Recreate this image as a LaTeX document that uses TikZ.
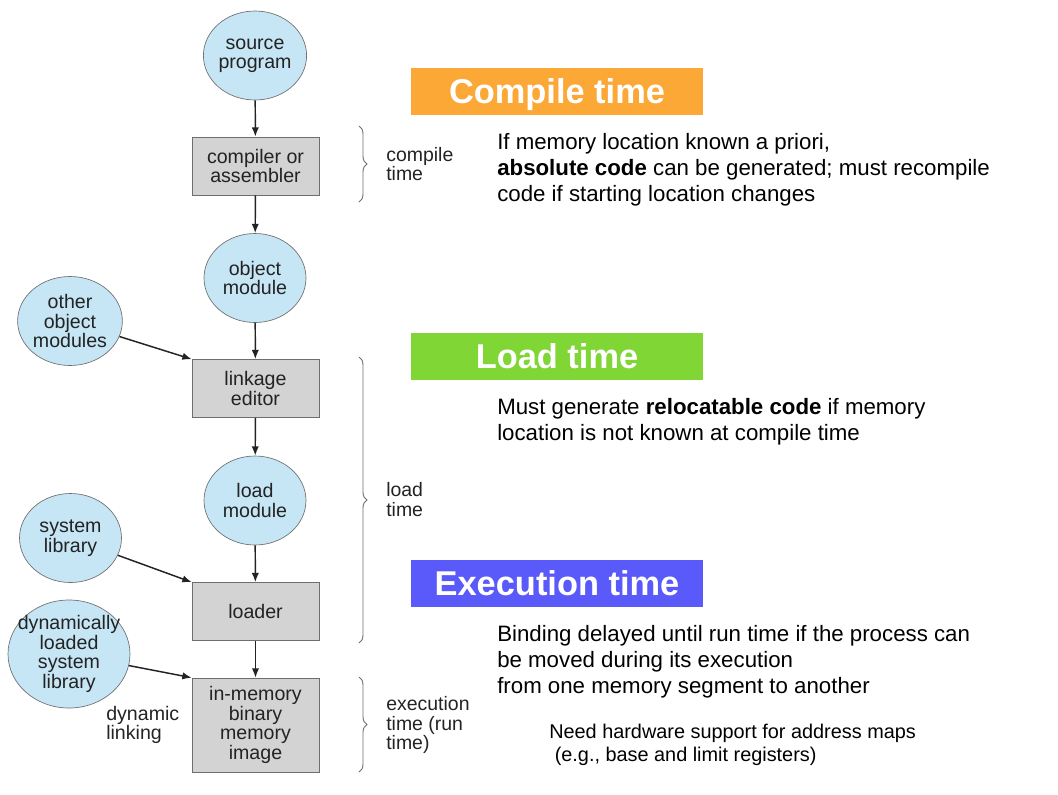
\documentclass[tikz,border=0pt]{standalone}
\usepackage{fontspec}
\setmainfont{Liberation Sans}
\usetikzlibrary{shapes.geometric,arrows.meta,decorations.pathreplacing}

\definecolor{bubble}{RGB}{198,230,245}
\definecolor{boxgray}{RGB}{211,211,211}
\definecolor{edgegray}{RGB}{110,110,110}
\definecolor{inkgray}{RGB}{35,35,35}
\definecolor{orangeband}{RGB}{251,168,55}
\definecolor{greenband}{RGB}{128,214,52}
\definecolor{blueband}{RGB}{90,90,250}

\tikzset{
  diag/.style={font=\fontsize{14.7}{14.6}\selectfont, text=inkgray, align=center},
  bubblenode/.style={diag, ellipse, draw=edgegray, line width=0.5pt, fill=bubble,
    inner sep=0pt, minimum width=76.5pt, minimum height=66.75pt},
  stage/.style={diag, rectangle, draw=edgegray, line width=0.5pt, fill=boxgray,
    inner sep=0pt, minimum width=95.25pt, minimum height=43.5pt},
  flow/.style={-{Latex[length=7pt,width=5.5pt]}, line width=1.1pt, draw=inkgray},
  bracket/.style={decorate, decoration={brace, amplitude=6pt}, draw=edgegray, line width=0.7pt},
  banner/.style={rectangle, inner sep=0pt, minimum width=219pt, minimum height=35.25pt,
    text depth=0pt, text=white, font=\fontsize{25.8}{28}\selectfont\bfseries},
  body/.style={anchor=west, inner sep=0pt, align=left, text=black,
    font=\fontsize{16.7}{19.5}\selectfont},
  smallbody/.style={anchor=west, inner sep=0pt, align=left, text=black,
    font=\fontsize{14.9}{17.25}\selectfont},
  timelabel/.style={anchor=west, inner sep=0pt, align=left, text=inkgray,
    font=\fontsize{14.6}{14.5}\selectfont}
}

\begin{document}
\begin{tikzpicture}[x=0.75pt,y=-0.75pt]
  \useasboundingbox (0,0) rectangle (1058,794);

  % main pipeline
  \node[bubblenode] (src) at (255,55.5) {source\\program};
  \node[stage] (comp) at (255.5,166) {compiler or\\assembler};
  \node[bubblenode] (obj) at (255,278) {object\\module};
  \node[stage] (link) at (255.5,388.5) {linkage\\editor};
  \node[bubblenode] (lmod) at (255,500.5) {load\\module};
  \node[stage] (loader) at (255.5,611.5) {loader};
  \node[stage, minimum height=70.5pt] (image) at (255.5,725) {in-memory\\binary\\memory\\image};

  % side inputs
  \node[bubblenode] (other) at (70,321) {other\\object\\modules};
  \node[bubblenode] (syslib) at (70.5,538) {system\\library};
  % this bubble's text is wider than the bubble, so it sits in a node of its own
  \node[bubblenode, minimum width=91.5pt, minimum height=81pt] (dyn) at (69,654) {};
  \node[diag, inner sep=0pt] (dyntext) at (dyn.center) {dynamically\\loaded\\system\\library};
  \node[diag, align=left, anchor=west, inner sep=0pt] (dynlink) at (106,725) {dynamic\\linking};

  % connectors
  \draw[flow] (src) -- (comp);
  \draw[flow] (comp) -- (obj);
  \draw[flow] (obj) -- (link);
  \draw[flow] (link) -- (lmod);
  \draw[flow] (lmod) -- (loader);
  \draw[flow] (loader) -- (image);
  \draw[flow] (other) -- (link.north west);
  \draw[flow] (syslib) -- (loader.north west);
  \draw[flow] (dyn) -- (image.north west);

  % phase brackets
  \coordinate (cbt) at (359,126);
  \coordinate (cbb) at (359,202);
  \coordinate (lbt) at (359,357);
  \coordinate (lbb) at (359,643);
  \coordinate (ebt) at (359,677);
  \coordinate (ebb) at (359,772);
  \draw[bracket] (cbt) -- (cbb);
  \draw[bracket] (lbt) -- (lbb);
  \draw[bracket] (ebt) -- (ebb);
  \node[timelabel] (ctl) at (386,164) {compile\\time};
  \node[timelabel] (ltl) at (386,499.5) {load\\time};
  \node[timelabel] (etl) at (386,725) {execution\\time (run\\time)};

  % banners
  \node[banner, fill=orangeband] (bc) at (557,91.5) {Compile time};
  \node[banner, fill=greenband] (bl) at (557,356.5) {Load time};
  \node[banner, fill=blueband] (be) at (557,583) {Execution time};

  % descriptions
  \node[body] (dc) at (497,170) {If memory location known a priori,\\
    \textbf{absolute code} can be generated; must recompile\\
    code if starting location changes};
  \node[body] (dl) at (497,421.5) {Must generate \textbf{relocatable code} if memory\\
    location is not known at compile time};
  \node[body] (de) at (497,661.5) {Binding delayed until run time if the process can\\
    be moved during its execution\\
    from one memory segment to another};
  \node[smallbody] (dh) at (549,744.5) {Need hardware support for address maps\\
    \ (e.g., base and limit registers)};
\end{tikzpicture}
\end{document}
